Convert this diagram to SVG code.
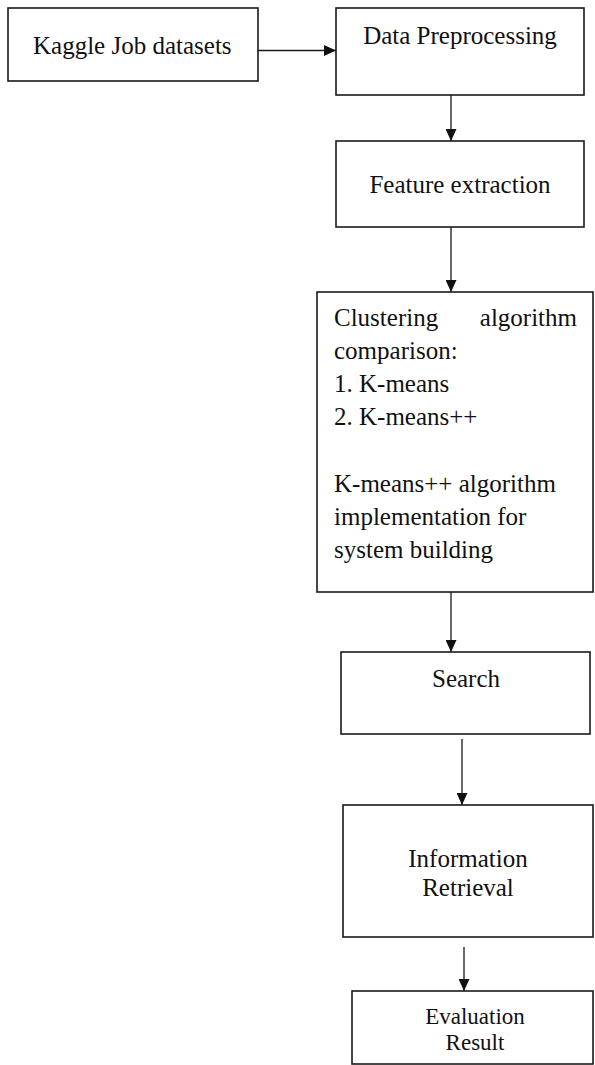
<svg xmlns="http://www.w3.org/2000/svg" width="595" height="1065" viewBox="0 0 595 1065">
<style>
.box{fill:#fff;stroke:#1a1a1a;stroke-width:1.6}
.t{font-family:"Liberation Serif","Times New Roman",serif;font-size:25px;fill:#111}
.s{font-size:23px}
.c{text-anchor:middle}
.e{text-anchor:end}
.ln{stroke:#1a1a1a;stroke-width:1.3;fill:none}
</style>
<defs>
<marker id="ah" viewBox="0 0 12 11" refX="12" refY="5.5" markerWidth="12" markerHeight="11" markerUnits="userSpaceOnUse" orient="auto">
<path d="M0,0 L12,5.5 L0,11 Z" fill="#111"/>
</marker>
</defs>
<rect width="595" height="1065" fill="#fff"/>
<g id="connectors">
<line class="ln" x1="258" y1="50.5" x2="336" y2="50.5" marker-end="url(#ah)"/>
<line class="ln" x1="451" y1="95" x2="451" y2="141" marker-end="url(#ah)"/>
<line class="ln" x1="451" y1="227" x2="451" y2="292" marker-end="url(#ah)"/>
<line class="ln" x1="451" y1="592" x2="451" y2="652" marker-end="url(#ah)"/>
<line class="ln" x1="462" y1="739" x2="462" y2="805" marker-end="url(#ah)"/>
<line class="ln" x1="464" y1="947" x2="464" y2="991" marker-end="url(#ah)"/>
</g>
<g id="kaggle">
<rect class="box" x="8" y="8" width="250" height="73"/>
<text class="t" x="33" y="54">Kaggle Job datasets</text>
</g>
<g id="preprocessing">
<rect class="box" x="336" y="8" width="248" height="87"/>
<text class="t c" x="460" y="44">Data Preprocessing</text>
</g>
<g id="feature">
<rect class="box" x="336" y="141" width="248" height="86"/>
<text class="t c" x="460" y="193">Feature extraction</text>
</g>
<g id="clustering">
<rect class="box" x="317" y="292" width="276" height="300"/>
<text class="t" x="334" y="326">Clustering</text>
<text class="t e" x="577" y="326">algorithm</text>
<text class="t" x="334" y="359">comparison:</text>
<text class="t" x="334" y="392">1. K-means</text>
<text class="t" x="334" y="425">2. K-means++</text>
<text class="t" x="334" y="492">K-means++ algorithm</text>
<text class="t" x="334" y="525">implementation for</text>
<text class="t" x="334" y="558">system building</text>
</g>
<g id="search">
<rect class="box" x="341" y="652" width="249" height="82"/>
<text class="t c" x="466" y="687">Search</text>
</g>
<g id="retrieval">
<rect class="box" x="343" y="805" width="250" height="132"/>
<text class="t c" x="468" y="867">Information</text>
<text class="t c" x="468" y="896">Retrieval</text>
</g>
<g id="evaluation">
<rect class="box" x="352" y="991" width="241" height="73"/>
<text class="t c s" x="475" y="1024">Evaluation</text>
<text class="t c s" x="475" y="1050">Result</text>
</g>
</svg>
